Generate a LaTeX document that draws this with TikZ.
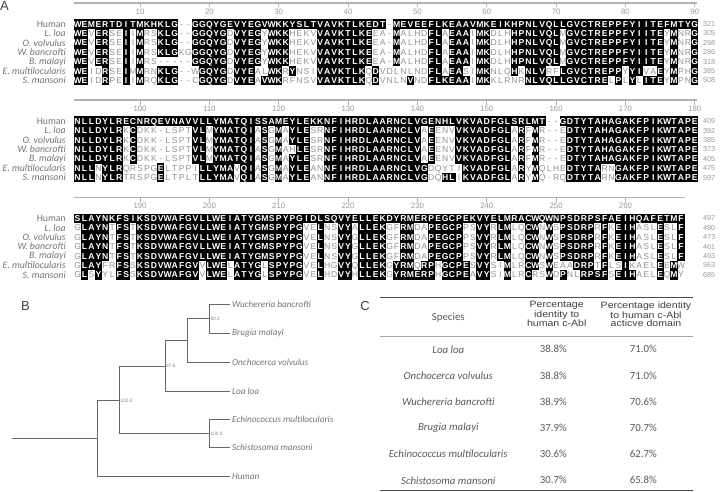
\documentclass[tikz,border=0pt]{standalone}
\usepackage{fontspec}
\setmainfont{Liberation Sans}
\newfontfamily\calfont{Carlito}
\newfontfamily\widefont[FakeStretch=1.15]{Liberation Sans}
\usetikzlibrary{positioning}

% alignment: residue identical to human -> black box, else grey letter
\newcount\alncol
\newif\ifalnbox
\newif\ifalnsame
\def\alnrow#1#2#3#4{%
  \alncol=0
  \pgfmathsetmacro\alny{#2}%
  \ifnum#1=0 \alnboxtrue\else\alnboxfalse\fi
  \edef\alnargs{#3\relax#4\relax}%
  \expandafter\alnstep\alnargs}
\def\alnstep#1#2\relax#3#4\relax{%
  \advance\alncol by 1
  \pgfmathsetmacro\alnx{77.6+6.935*(\the\alncol-1)}%
  \alnsamefalse
  \def\alnres{#1}\def\alnref{#3}%
  \ifx\alnres\alnref\alnsametrue\fi
  \if-#1\alnsamefalse\fi
  \ifalnbox
    \ifalnsame\fill (\alnx-3.55,\alny-4.8) rectangle (\alnx+3.55,\alny+4.8);\fi
  \else
    \ifalnsame\node[seqon] at (\alnx,\alny+3.1) {#1};\else\node[seqoff] at (\alnx,\alny+3.1) {#1};\fi
  \fi
  \ifx\relax#2\relax\else\alnstep#2\relax#4\relax\fi}

\def\hA{WEMERTDITMKHKLG--GGQYGEVYEGVWKKYSLTVAVKTLKEDT-MEVEEFLKEAAVMKEIKHPNLVQLLGVCTREPPFYIITEFMTYG}
\def\lA{WEVERSEIIMRSKLG--GGQYGDVYEGYWKKHEKVVAVKTLKEEA-MALHDFLAEAAIMKDLHHPNLVQLMGVCTREPPFYIITEYMNRG}
\def\oA{WEVERSEIIMRSKLG--GGQYGDVYEGYWKKHEKVVAVKTLKEEA-MALHDFLAEAAIMKDLHHPNLVQLMGVCTREPPFYIITEYMNRG}
\def\wA{WEVERSEIIMRSKLGKGGGQYGDVYEGYWKKHEKVVAVKTLKEEA-MALHDFLAEAAIMKDLHHPNLVQLMGVCTREPPFYIITEYMNRG}
\def\bA{WEVERSEIIMRS-----GGQYGDVYEGYWKKHEKVVAVKTLKEEA-MALHDFLAEAAIMKDLHHPNLVQLMGVCTREPPFYIITEYMNRG}
\def\eA{WEIDRSEIMMRNKLG--WGQYGDVYEALWKRYNSIVAVKTLKQDVDLNLNDFLAEASIMKNLQHKNLVRFLGVCTREPPYYIVAEYMPHG}
\def\sA{WEIDRPEIIMRQKLG--CGQYGDVYEAVWKRFNSVVAVKTLKQDVNLNVNDFLKEAAIMKKLRNRNLVQLLGVCTRELPLYLITEYMPNG}

\def\hB{NLLDYLRECNRQEVNAVVLLYMATQISSAMEYLEKKNFIHRDLAARNCLVGENHLVKVADFGLSRLMT--GDTYTAHAGAKFPIKWTAPE}
\def\lB{NLLDYLRKCDKK-LSPTVLMYMATQIASGMAYLESRNFIHRDLAARNCLVAEENVVKVADFGLARFMR--EDTYTAHAGAKFPIKWTAPE}
\def\oB{NLLDYLRKCDKK-LSPTVLMYMATQIASGMAYLESRNFIHRDLAARNCLVAEENVVKVADFGLARFMR--EDTYTAHAGAKFPIKWTAPE}
\def\wB{NLLDYLRKCDKK-LSPTVLMYMATQIASGMAHLESRNFIHRDLAARNCLVAEENVVKVADFGLARFMR--EDTYTAHAGAKFPIKWTAPE}
\def\bB{NLLDYLRKCDKK-LSPTVLMYMATQIASGMAYLESRNFIHRDLAARNCLVAEENVVKVADFGLARFMR--EDTYTAHAGAKFPIKWTAPE}
\def\eB{NLLNYLRQRSPGELTPPILLYMAVQIASGMAYLEANNFIHRDLAARNCLVGDQYTIKVADFGLARYMQLHEDTYTARNGAKFPIKWTAPE}
\def\sB{NLLNYLRTRSPGELTPLTLLYMAVQIASGMAYLEANNFIHRDLAARNCLVGDQHLIKVADFGLARYMQ-RQDTYTARNGAKFPIKWTAPE}

\def\hC{SLAYNKFSIKSDVWAFGVLLWEIATYGMSPYPGIDLSQVYELLEKDYRMERPEGCPEKVYELMRACWQWNPSDRPSFAEIHQAFETMF}
\def\lC{GLAYNTFSTKSDVWAFGVLLWEIATYGMSPYPGVELNSVYALLEKGFRMDAPEGCPPSVYRLMLQCWNWSPSDRPRFKEIHASLESLF}
\def\oC{GLAYNTFSTKSDVWAFGVLLWEIATYGMSPYPGVELNSVYGLLEKGFRMDAPEGCPPSVYRLMLQCWNWSPSDRPRFKEIHASLESLF}
\def\wC{GLAYNTFSTKSDVWAFGVLLWEIATYGMSPYPGVELNSVYGLLEKGFRMDAPEGCPPSVYRLMLQCWNWSPSDRPRFKEIHASLESLF}
\def\bC{GLAYNTFSTKSDVWAFGVLLWEIATYGMSPYPGVELNSVYGLLEKGFRMDAPEGCPPSVYRLMLQCWNWSPSDRPRFKEIHASLESLF}
\def\eC{GLAYFRFSSKSDVWAFGVVLWELATYGLSPYPGVELHGVYQLLEKGYRMQRPHGCPESVYSIMLRCWSWEAADRPTFLSIKAELEEMW}
\def\sC{GLSYYLFSSKSDVWAFGVVLWELATYGLSPYPGVELHDVYHLLEKGYRMERPHGCPEAVYSIMLRCRSWDPNLRPSFSEIHAELEQMY}

\tikzset{
  seqon/.style={text=white, anchor=base, inner sep=0pt, font=\fontsize{8.6}{9}\selectfont\bfseries},
  seqoff/.style={text=gray!85, anchor=base, inner sep=0pt, font=\fontsize{8.6}{9}\selectfont},
  rowlbl/.style={anchor=east, inner sep=0pt, text=gray!90!black, font=\calfont\fontsize{9.8}{10}\selectfont},
  endnum/.style={anchor=west, inner sep=0pt, text=gray!80, font=\fontsize{7.2}{8}\selectfont},
  ruler/.style={gray!60, line width=1.4pt},
  rulenum/.style={inner sep=1pt, text=gray!80, font=\fontsize{7.8}{8}\selectfont},
  panel/.style={text=black!75, font=\fontsize{13}{13}\selectfont},
  branch/.style={gray!80!black, line width=0.7pt},
  leaf/.style={anchor=west, inner sep=2pt, text=gray!90!black, font=\calfont\itshape\fontsize{9.2}{10}\selectfont},
  boot/.style={anchor=west, inner sep=1pt, text=gray, font=\fontsize{4.8}{5}\selectfont},
  tabtxt/.style={text=black!65, font=\calfont\fontsize{10.8}{11}\selectfont},
  tabhead/.style={text=black!75, align=center, font=\widefont\fontsize{9.2}{8.3}\selectfont}
}

\begin{document}
\begin{tikzpicture}[x=1pt,y=-1pt]
\useasboundingbox (0,0) rectangle (720,492);

% A: alignment
\node[panel] at (4.5,6) {A};
\foreach \blk/\top in {A/0,B/97.2,C/194.4} {
  \foreach \pass in {0,1} {
    \foreach \sp [count=\r from 0] in {h,l,o,w,b,e,s} {
      \alnrow{\pass}{\top+24+9.4*\r}{\csname\sp\blk\endcsname}{\csname h\blk\endcsname}
    }
  }
  \foreach \nm [count=\r from 0] in {Human,\textit{L. loa},\textit{O. volvulus},\textit{W. bancrofti},\textit{B. malayi},\textit{E. multilocularis},\textit{S. mansoni}}
    \node[rowlbl] at (66,\top+24+9.4*\r) {\nm};
}
\foreach \top/\off/\kmax/\len in {0/0/90/697,97.2/90/90/697,194.4/180/80/685} {
  \draw[ruler] (74,\top+3) -- (\len,\top+3);
  \foreach \k in {10,20,...,\kmax} {
    \pgfmathtruncatemacro\lab{\k+\off}
    \draw[gray!60, line width=0.8pt] (77.6+6.935*\k-6.935,\top+3) -- ++(0,4.5) node[rulenum,below] {\lab};
  }
}
\foreach \n [count=\r from 0] in {321,305,298,286,318,385,508}
  \node[endnum] at (703,24+9.4*\r) {\n};
\foreach \n [count=\r from 0] in {409,392,385,373,405,475,597}
  \node[endnum] at (703,121.2+9.4*\r) {\n};
\foreach \n [count=\r from 0] in {497,480,473,461,493,563,685}
  \node[endnum] at (703,218.4+9.4*\r) {\n};

% B: tree
\node[panel] at (25.5,306) {B};
\coordinate (root) at (11.7,438.3);
\coordinate (n1) at (97.3,438.3);
\coordinate (n2) at (119.3,400.7);
\coordinate (n3) at (165,366);
\coordinate (n4) at (187.7,340.7);
\coordinate (n5) at (209.3,318.8);
\coordinate (n6) at (209.3,433.5);
\node[leaf] (wuch) at (230,304.3) {Wuchereria bancrofti};
\node[leaf] (brug) at (230,333.3) {Brugia malayi};
\node[leaf] (onch) at (230,362.7) {Onchocerca volvulus};
\node[leaf] (loa) at (230,391) {Loa loa};
\node[leaf] (echi) at (230,419.3) {Echinococcus multilocularis};
\node[leaf] (schi) at (230,447.7) {Schistosoma mansoni};
\node[leaf] (hum) at (230,476.7) {Human};
\draw[branch] (root) -- (n1);
\draw[branch] (n1) |- (n2);
\draw[branch] (n1) |- (hum.west);
\draw[branch] (n2) |- (n3);
\draw[branch] (n2) |- (n6);
\draw[branch] (n3) |- (n4);
\draw[branch] (n3) |- (loa.west);
\draw[branch] (n4) |- (n5);
\draw[branch] (n4) |- (onch.west);
\draw[branch] (n5) |- (wuch.west);
\draw[branch] (n5) |- (brug.west);
\draw[branch] (n6) |- (echi.west);
\draw[branch] (n6) |- (schi.west);
\node[boot] at (n5) {93.2};
\node[boot] at (n3) {97.6};
\node[boot] at (n2) {100.0};
\node[boot] at (n6) {100.0};

% C: table
\node[panel] at (365,306) {C};
\draw[black!70, line width=0.9pt] (380,297.7) -- (693,297.7);
\draw[gray!70, line width=0.6pt] (380,336) -- (693,336);
\draw[black!70, line width=0.9pt] (380,490) -- (693,490);
\node[tabtxt] (hsp) at (448.3,317.7) {Species};
\node[tabhead] (hid) at (556.7,314.3) {Percentage\\identity to\\human c-Abl};
\node[tabhead] (had) at (646,314.3) {Percentage identity\\to human c-Abl\\acticve domain};
\foreach \nm/\pa/\pb [count=\r from 0] in {Loa loa/38.8\%/71.0\%,Onchocerca volvulus/38.8\%/71.0\%,Wuchereria bancrofti/38.9\%/70.6\%,Brugia malayi/37.9\%/70.7\%,Echinococcus multilocularis/30.6\%/62.7\%,Schistosoma mansoni/30.7\%/65.8\%} {
  \node[tabtxt] at (448.3,349.3+26.2*\r) {\itshape\nm};
  \node[tabtxt] at (553.3,349.3+26.2*\r) {\pa};
  \node[tabtxt] at (643.3,349.3+26.2*\r) {\pb};
}
\end{tikzpicture}
\end{document}
